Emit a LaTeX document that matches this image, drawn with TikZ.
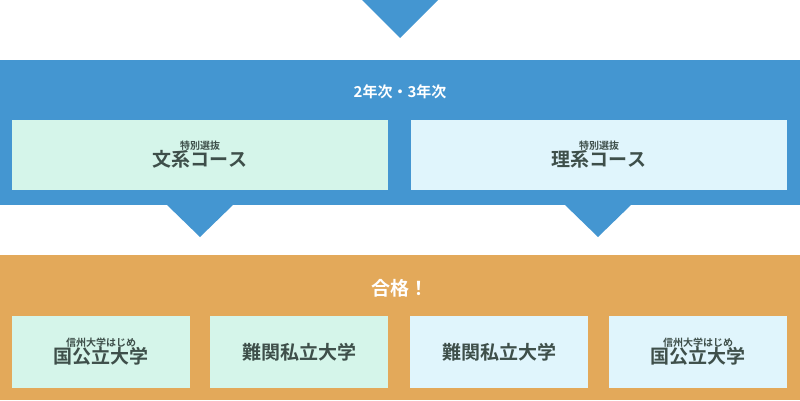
\documentclass[tikz,border=0pt]{standalone}
\usepackage{fontspec}
\setmainfont{Noto Sans CJK JP}[BoldFont={Noto Sans CJK JP Bold}]
\definecolor{bandblue}{HTML}{4496D1}
\definecolor{bandorange}{HTML}{E3A95A}
\definecolor{boxgreen}{HTML}{D5F5EA}
\definecolor{boxblue}{HTML}{E0F5FC}
\definecolor{txt}{HTML}{3E4F4A}
\tikzset{
  course/.style={minimum width=376pt,minimum height=70pt,inner sep=0pt,align=center,text=txt,font=\bfseries},
  result/.style={minimum width=178pt,minimum height=72pt,inner sep=0pt,align=center,text=txt,font=\bfseries},
  head/.style={text=white,font=\bfseries}
}
\begin{document}
\begin{tikzpicture}[x=1pt,y=-1pt]
\useasboundingbox (0,0) rectangle (800,400);
% arrow into the top band
\fill[bandblue] (362,0) -- (438,0) -- (400,38) -- cycle;
% 2nd and 3rd year band
\fill[bandblue] (0,60) rectangle (800,205);
\node[head,font=\bfseries\fontsize{15}{18}\selectfont] (years) at (400,92) {2年次・3年次};
\node[course,fill=boxgreen] (bun) at (200,155) {{\fontsize{10}{12}\selectfont 特別選抜}\\[-1pt]{\fontsize{19}{23}\selectfont 文系コース}};
\node[course,fill=boxblue] (ri) at (599,155) {{\fontsize{10}{12}\selectfont 特別選抜}\\[-1pt]{\fontsize{19}{23}\selectfont 理系コース}};
\fill[bandblue] (166,204) -- (234,204) -- (200,237) -- cycle;
\fill[bandblue] (564,204) -- (632,204) -- (598,237) -- cycle;
% results band
\fill[bandorange] (0,255) rectangle (800,400);
\node[head,font=\bfseries\fontsize{19}{23}\selectfont] (pass) at (400,288) {合格！};
\node[result,fill=boxgreen] (r1) at (101,352) {{\fontsize{10}{12}\selectfont 信州大学はじめ}\\[-1pt]{\fontsize{19}{23}\selectfont 国公立大学}};
\node[result,fill=boxgreen] (r2) at (299,352) {{\fontsize{19}{23}\selectfont 難関私立大学}};
\node[result,fill=boxblue] (r3) at (499,352) {{\fontsize{19}{23}\selectfont 難関私立大学}};
\node[result,fill=boxblue] (r4) at (698,352) {{\fontsize{10}{12}\selectfont 信州大学はじめ}\\[-1pt]{\fontsize{19}{23}\selectfont 国公立大学}};
\end{tikzpicture}
\end{document}
